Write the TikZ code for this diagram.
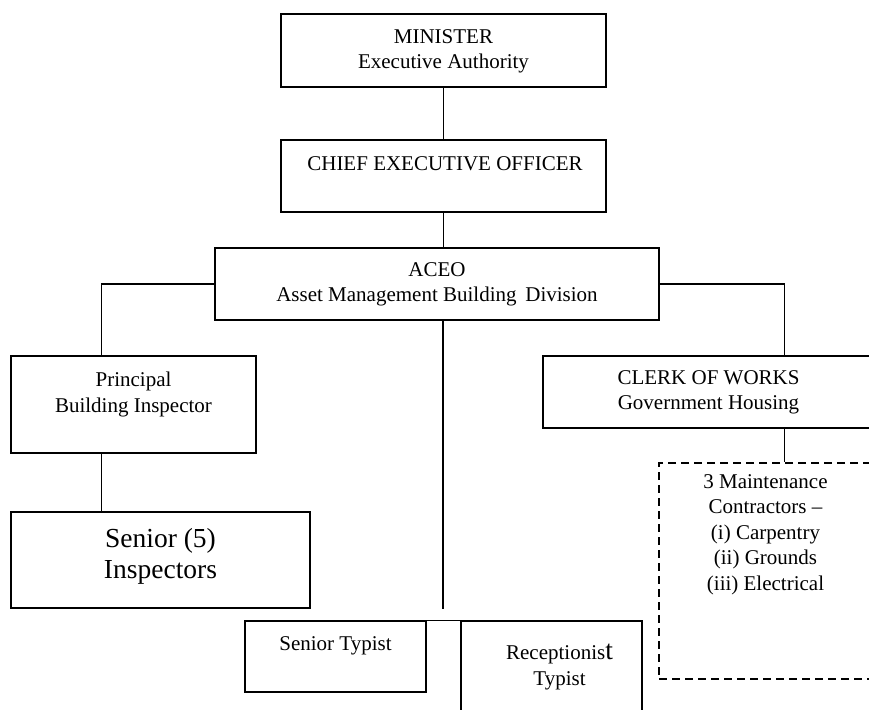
\documentclass[tikz,border=0pt]{standalone}
\usepackage{fontspec}
\setmainfont{Liberation Serif}
\usetikzlibrary{positioning}

\tikzset{
	box/.style={draw, line width=1.5pt, inner sep=0pt},
	dashbox/.style={draw, line width=1.5pt, dash pattern=on 8pt off 5pt, inner sep=0pt},
	txt/.style={align=center, inner sep=0pt, font=\fontsize{21}{25.5}\selectfont},
	bigtxt/.style={align=center, inner sep=0pt, font=\fontsize{27.5}{30.5}\selectfont},
	link/.style={line width=1.5pt}
}

\begin{document}
\begin{tikzpicture}[x=1pt, y=-1pt]
	\useasboundingbox (0,0) rectangle (869,709);
	\clip (0,0) rectangle (869,709);

	\node[box, minimum width=325, minimum height=73] (minister) at (443.5, 50.5) {};
	\node[box, minimum width=325, minimum height=72] (ceo) at (443.5, 176) {};
	\node[box, minimum width=444, minimum height=72] (aceo) at (437, 284) {};
	\node[box, minimum width=245, minimum height=97] (principal) at (133.5, 404.5) {};
	\node[box, minimum width=299, minimum height=96] (seniors) at (160.5, 560) {};
	\node[box, minimum width=335, minimum height=72] (clerk) at (710.5, 392) {};
	\node[dashbox, minimum width=219, minimum height=216] (contractors) at (768.5, 571) {};
	\node[box, minimum width=181, minimum height=71] (typist) at (335.5, 656.5) {};
	\node[box, minimum width=181, minimum height=120] (recept) at (551.5, 681) {};
	\coordinate (stub) at (443, 609);

	\node[txt, below=16pt of minister.north] (ministertxt) {MINISTER\\Executive Authority};
	\node[txt, below=17pt of ceo.north, xshift=1.5pt] (ceotxt) {CHIEF EXECUTIVE OFFICER};
	\node[txt, below=15pt of aceo.north] (aceotxt) {ACEO\\Asset Management Building\ \,Division};
	\node[txt, below=16.5pt of principal.north] (principaltxt) {Principal\\Building Inspector};
	\node[bigtxt, below=17pt of seniors.north] (seniorstxt) {Senior (5)\\Inspectors};
	\node[txt, below=15pt of clerk.north, xshift=-2pt] (clerktxt) {CLERK OF WORKS\\Government Housing};
	\node[txt, below=12pt of contractors.north, xshift=-3pt] (contractorstxt)
		{3 Maintenance\\Contractors --\\(i) Carpentry\\(ii) Grounds\\(iii) Electrical};
	\node[txt, below=16pt of typist.north] (typisttxt) {Senior Typist};
	\node[txt, below=24pt of recept.north, xshift=8pt] (recepttxt)
		{Receptionis{\fontsize{27.5}{30.5}\selectfont t}\\Typist};

	\draw[link] (minister) -- (ceo);
	\draw[link] (ceo.south) -- (ceo.south |- aceo.north);
	\draw[link] (aceo.west) -| ([xshift=91pt]principal.north west);
	\draw[link] ([xshift=91pt]principal.south west) -- ([xshift=91pt]principal.south west |- seniors.north);
	\draw[link] (aceo.east) -| ([xshift=242pt]clerk.north west);
	\draw[link] ([xshift=242pt]clerk.south west) -- ([xshift=242pt]clerk.south west |- contractors.north);
	\draw[link] ([xshift=6pt]aceo.south) -- (stub);
	\draw[link] (typist.north east) -- (recept.north west);
\end{tikzpicture}
\end{document}
